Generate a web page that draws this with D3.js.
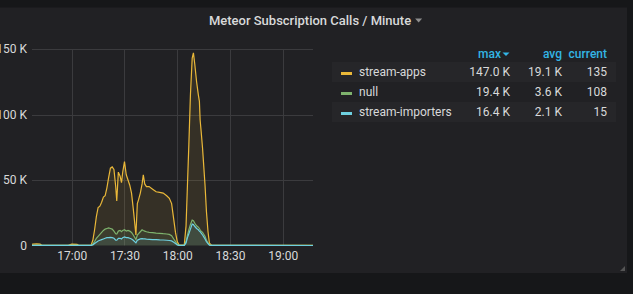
<!DOCTYPE html>
<html>
<head>
<meta charset="utf-8">
<script src="https://cdn.jsdelivr.net/npm/d3@7"></script>
<style>
  body { margin: 0; background: #161719; font-family: Roboto, "Open Sans", sans-serif; }
  svg { display: block; }
</style>
</head>
<body>
<svg id="chart" width="633" height="294"></svg>
<script>
// minutes after 16:00, values in thousands of calls / minute
var minutes = [37.4, 38, 40, 42, 43, 58, 60, 63, 64, 71, 72, 73, 74, 75, 76, 77, 78, 79, 80, 81, 82, 83, 84, 85, 85.6,
  86.5, 87.5, 88.3, 89, 90, 91, 92, 93, 94, 95, 96.5, 97.3, 98, 99, 100, 100.7, 101.5, 102.5, 104, 106, 108, 110,
  112, 114, 115.5, 116.8, 118, 119, 120, 121, 124, 125, 125.8, 126.6, 127.5, 128.5, 129.2, 130, 131, 132, 132.6,
  133, 133.6, 134.4, 134.9, 135.8, 136.6, 137.5, 138.3, 139.5, 197.2];

var streamApps = [0.8, 1.0, 1.2, 1.0, 0.2, 0.2, 1.0, 0.9, 0.2, 0.3, 4, 12, 22, 29, 30, 33, 37, 38, 44, 52, 59, 60, 58, 45, 34,
  56, 53, 48, 56, 64, 54, 50, 46, 40, 28, 8, 32, 35, 40, 47, 54, 47, 45, 45, 43, 41, 40.5,
  40, 38, 36, 32, 20, 10, 3, 0.5, 0.3, 15, 46, 77, 115, 143, 147, 138, 125, 115, 110,
  96, 87, 74, 64, 46, 26, 10.5, 1.7, 0.2, 0.135];

var nullSeries = [0.2, 0.2, 0.2, 0.2, 0.1, 0.1, 0.2, 0.2, 0.1, 0.1, 1, 3, 5.5, 7, 8.5, 10, 11.5, 12.5, 13, 13.5, 13, 12.5, 11, 9, 8.8,
  11, 11.5, 10.5, 11.5, 12, 11, 11.5, 11, 10, 8, 4.5, 8, 9, 10.5, 12, 11.5, 11, 10.5, 10, 9.8, 9.5, 9.3,
  9, 8.8, 8.5, 7.5, 5, 3, 1, 0.2, 0.2, 3, 8, 12, 16, 19.4, 19, 17, 15, 14, 13,
  12, 11, 10, 9, 7, 4, 2, 0.5, 0.1, 0.108];

var streamImporters = [0.1, 0.1, 0.1, 0.1, 0.1, 0.1, 0.1, 0.1, 0.1, 0.1, 0.5, 1.5, 2.5, 3.5, 4, 4.5, 5, 5.5, 6, 6, 6.2, 6, 5.5, 4, 4,
  5.5, 5.5, 5, 6, 6.5, 6, 6, 5.5, 5, 4, 2, 4, 4.5, 5, 5.2, 5, 5, 4.8, 4.7, 4.5, 4.5, 4.3,
  4.2, 4, 3.8, 3.5, 2.5, 1.5, 0.5, 0.1, 0.1, 2, 6, 9, 12.5, 16.4, 16, 14.5, 13, 12, 11,
  10.5, 9.5, 8, 7, 5, 3, 1.5, 0.3, 0.05, 0.015];

var seriesNames = ["stream-apps", "null", "stream-importers"];
var seriesColors = ["#eab839", "#7eb26d", "#6ed0e0"];
var legendMax = ["147.0 K", "19.4 K", "16.4 K"];
var legendAvg = ["19.1 K", "3.6 K", "2.1 K"];
var legendCurrent = ["135", "108", "15"];
var legendHeaders = ["max", "avg", "current"];

var yTicks = [0, 50, 100, 150];
var xTickMinutes = [60, 90, 120, 150, 180];

var base = new Date(2020, 0, 1, 16, 0, 0);
function toDate(m) { return new Date(base.getTime() + m * 60000); }

var svg = d3.select("#chart");

// panel
svg.append("rect")
  .attr("x", -4).attr("y", 7.5)
  .attr("width", 631).attr("height", 265.5)
  .attr("fill", "#212124");

var title = svg.append("text")
  .attr("x", 310).attr("y", 24.5)
  .attr("text-anchor", "middle")
  .attr("font-size", "13px")
  .attr("font-weight", 500)
  .attr("fill", "#d8d9da")
  .text("Meteor Subscription Calls / Minute");

var titleEnd = 310 + title.node().getComputedTextLength() / 2;
svg.append("path")
  .attr("d", "M" + (titleEnd + 4) + ",18.5 l7,0 l-3.5,4 Z")
  .attr("fill", "#8e8e8e");

var margin = { left: 32, top: 49, right: 313, bottom: 245.5 };

var x = d3.scaleTime()
  .domain([toDate(37.4), toDate(197.2)])
  .range([margin.left, margin.right]);

var y = d3.scaleLinear()
  .domain([0, 150])
  .range([margin.bottom, margin.top]);

var grid = svg.append("g").attr("stroke", "#3b3b3e").attr("stroke-width", 1);

grid.selectAll(".hgrid")
  .data(yTicks.filter(function (d) { return d > 0; }))
  .enter().append("line")
    .attr("x1", margin.left).attr("x2", margin.right)
    .attr("y1", function (d) { return Math.round(y(d)) + 0.5; })
    .attr("y2", function (d) { return Math.round(y(d)) + 0.5; });

grid.selectAll(".vgrid")
  .data(xTickMinutes)
  .enter().append("line")
    .attr("x1", function (d) { return Math.round(x(toDate(d))) + 0.5; })
    .attr("x2", function (d) { return Math.round(x(toDate(d))) + 0.5; })
    .attr("y1", margin.top).attr("y2", margin.bottom);

// y axis
var yAxis = svg.append("g")
  .attr("transform", "translate(" + margin.left + ",0)")
  .call(d3.axisLeft(y)
    .tickValues(yTicks)
    .tickSize(0)
    .tickPadding(5)
    .tickFormat(function (d) { return d === 0 ? "0" : d + " K"; }));
yAxis.select(".domain").remove();
yAxis.selectAll("text")
  .attr("fill", "#d8d9da")
  .attr("font-size", "12px")
  .attr("font-family", "Roboto, sans-serif");

// x axis
var xAxis = svg.append("g")
  .attr("transform", "translate(0," + margin.bottom + ")")
  .call(d3.axisBottom(x)
    .tickValues(xTickMinutes.map(toDate))
    .tickSize(0)
    .tickPadding(6)
    .tickFormat(d3.timeFormat("%H:%M")));
xAxis.select(".domain").remove();
xAxis.selectAll("text")
  .attr("fill", "#d8d9da")
  .attr("font-size", "12px")
  .attr("font-family", "Roboto, sans-serif");

// series
var allSeries = [streamApps, nullSeries, streamImporters];

var area = d3.area()
  .x(function (d, i) { return x(toDate(minutes[i])); })
  .y0(y(0))
  .y1(function (d) { return y(d); });

var line = d3.line()
  .x(function (d, i) { return x(toDate(minutes[i])); })
  .y(function (d) { return y(d); });

allSeries.forEach(function (vals, k) {
  svg.append("path")
    .datum(vals)
    .attr("d", area)
    .attr("fill", seriesColors[k])
    .attr("fill-opacity", 0.1);
});

allSeries.forEach(function (vals, k) {
  svg.append("path")
    .datum(vals)
    .attr("d", line)
    .attr("fill", "none")
    .attr("stroke", seriesColors[k])
    .attr("stroke-width", 1.2);
});

// legend table
var colRight = [510, 562, 607];
var rowY = [72, 92, 112];

var header = svg.append("g");
header.selectAll("text")
  .data(legendHeaders)
  .enter().append("text")
    .attr("x", function (d, i) { return i === 0 ? colRight[i] - 9 : colRight[i]; })
    .attr("y", 58)
    .attr("text-anchor", "end")
    .attr("font-size", "12px")
    .attr("font-weight", 500)
    .attr("fill", "#33b5e5")
    .text(function (d) { return d; });
header.append("path")
  .attr("d", "M502.5,52.5 L509.5,52.5 L506,56 Z")
  .attr("fill", "#33b5e5");

var rows = svg.append("g").selectAll("g")
  .data(seriesNames)
  .enter().append("g")
    .attr("transform", function (d, i) { return "translate(0," + rowY[i] + ")"; });

rows.append("rect")
  .attr("x", 332).attr("y", -10)
  .attr("width", 284).attr("height", 20)
  .attr("fill", function (d, i) { return i % 2 === 0 ? "#262629" : "none"; });

rows.append("rect")
  .attr("x", 341).attr("y", 0)
  .attr("width", 11).attr("height", 3)
  .attr("fill", function (d, i) { return seriesColors[i]; });

rows.append("text")
  .attr("x", 359).attr("y", 4)
  .attr("font-size", "12px")
  .attr("fill", "#d8d9da")
  .text(function (d) { return d; });

[legendMax, legendAvg, legendCurrent].forEach(function (col, c) {
  rows.append("text")
    .attr("x", colRight[c]).attr("y", 4)
    .attr("text-anchor", "end")
    .attr("font-size", "12px")
    .attr("fill", "#d8d9da")
    .text(function (d, i) { return col[i]; });
});

// resize handle
svg.append("path")
  .attr("d", "M625,266 L625,271 L620,271 Z")
  .attr("fill", "#555");
</script>
</body>
</html>
